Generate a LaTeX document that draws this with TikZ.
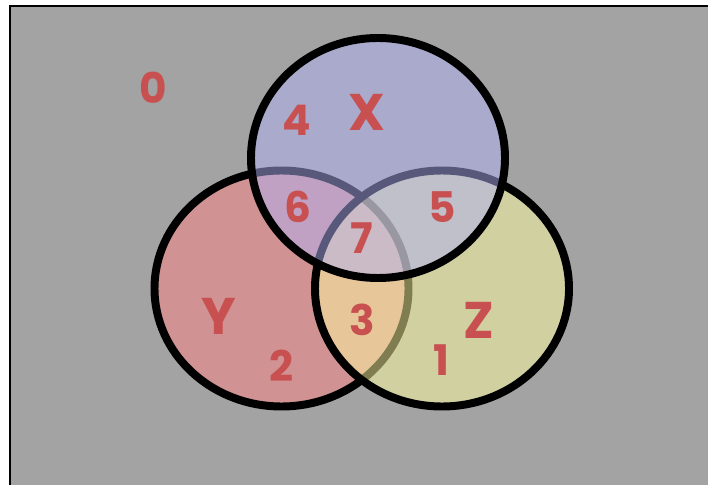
\documentclass[tikz,border=0pt]{standalone}
\usepackage{fontspec}
\newfontfamily\vennfont{Poppins}
\usetikzlibrary{positioning}
\definecolor{paneGray}{HTML}{A3A3A3}
\definecolor{setX}{HTML}{B1B1F5}
\definecolor{setY}{HTML}{FD8383}
\definecolor{setZ}{HTML}{FFFDA1}
\definecolor{labelRed}{HTML}{C85050}

\begin{document}
\begin{tikzpicture}[
    x=0.03cm, y=-0.03cm,
    setline/.style={draw=black, line width=6.8pt, fill opacity=0.5},
    region/.style={text=labelRed, font=\vennfont\bfseries\fontsize{36}{38}\selectfont, inner sep=0pt},
    setname/.style={region, font=\vennfont\bfseries\fontsize{44}{46}\selectfont}
]
    \clip (0,0) rectangle (708,485);
    \fill[white] (0,0) rectangle (708,485);
    \draw[fill=paneGray, line width=1.7pt] (10,6) rectangle (730,500);

    \coordinate (cY) at (281.5,288.5);
    \coordinate (cZ) at (442,288.5);
    \coordinate (cX) at (378,158);

    \draw[setline, fill=setY] (cY) ellipse (127 and 118);
    \draw[setline, fill=setZ] (cZ) ellipse (127 and 118);
    \draw[setline, fill=setX] (cX) ellipse (127 and 120);

    \node[region] (r0) at (153,88) {0};
    \node[region] (r4) at (297,120) {4};
    \node[setname] (nX) at (367,112) {X};
    \node[region] (r6) at (298,207) {6};
    \node[region] (r5) at (442,207) {5};
    \node[region] (r7) at (362,238) {7};
    \node[setname] (nY) at (219,316) {Y};
    \node[region] (r3) at (362,320) {3};
    \node[setname] (nZ) at (479,320) {Z};
    \node[region] (r2) at (282,366) {2};
    \node[region] (r1) at (441,360) {1};
\end{tikzpicture}
\end{document}
